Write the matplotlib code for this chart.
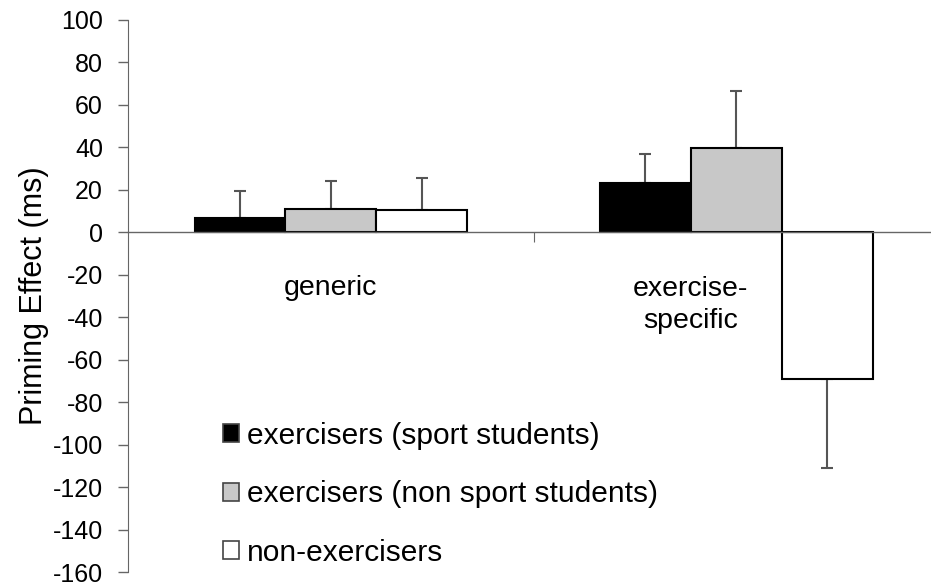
import numpy as np
import matplotlib
matplotlib.use('Agg')
import matplotlib.pyplot as plt
from matplotlib.patches import Patch

plt.rcParams['font.family'] = ['Liberation Sans', 'DejaVu Sans']
plt.rcParams['axes.unicode_minus'] = False

categories = ['generic', 'exercise-\nspecific']
groups = ['exercisers (sport students)', 'exercisers (non sport students)', 'non-exercisers']
colors = ['black', '#c8c8c8', 'white']
means = [[6.5, 23], [11, 39.5], [10.5, -69]]
errors = [[13, 14], [13, 27], [15, 42]]

fig = plt.figure(figsize=(9.31, 5.85), dpi=100)
ax = fig.add_axes([0.1375, 0.022, 0.8625, 0.944])

x = np.arange(len(categories))
width = 0.224
for i in range(len(groups)):
    pos = x + (i - 1) * width
    vals = np.array(means[i])
    err = np.array(errors[i])
    up = np.where(vals >= 0, err, 0)
    down = np.where(vals < 0, err, 0)
    ax.bar(pos, vals, width, color=colors[i], edgecolor='black', linewidth=1.5, zorder=2)
    ax.errorbar(pos, vals, yerr=[down, up], fmt='none', ecolor='#555555',
                elinewidth=1.5, capsize=4, capthick=1.5, zorder=1)

ax.set_xlim(-0.5, 1.48)
ax.set_ylim(-160, 100)
ax.set_yticks(np.arange(-160, 101, 20))
ax.tick_params(axis='y', labelsize=18, length=7, width=1, color='#666666', pad=11)
ax.set_ylabel('Priming Effect (ms)', fontsize=22, labelpad=3)

ax.spines['top'].set_visible(False)
ax.spines['right'].set_visible(False)
ax.spines['left'].set_color('#666666')
ax.spines['bottom'].set_position(('data', 0))
ax.spines['bottom'].set_color('#666666')
ax.spines['bottom'].set_linewidth(1)
ax.set_xticks([0.5])
ax.set_xticklabels([''])
ax.tick_params(axis='x', direction='out', length=7, color='#666666')

label_x = [0, 0.886]
ax.text(label_x[0], -26, categories[0], ha='center', va='center', fontsize=20.5)
ax.text(label_x[1], -34, categories[1], ha='center', va='center', fontsize=20.5, linespacing=1.3)

handles = [Patch(facecolor=c, edgecolor='#444444', linewidth=1.2) for c in colors]
ax.legend(handles, groups, loc='upper left', bbox_to_anchor=(0.118, 0.272), frameon=False,
          fontsize=21.5, handlelength=0.55, handleheight=0.55, handletextpad=0.25, labelspacing=1.02,
          borderpad=0, borderaxespad=0)

fig.savefig('out.png', dpi=100)
